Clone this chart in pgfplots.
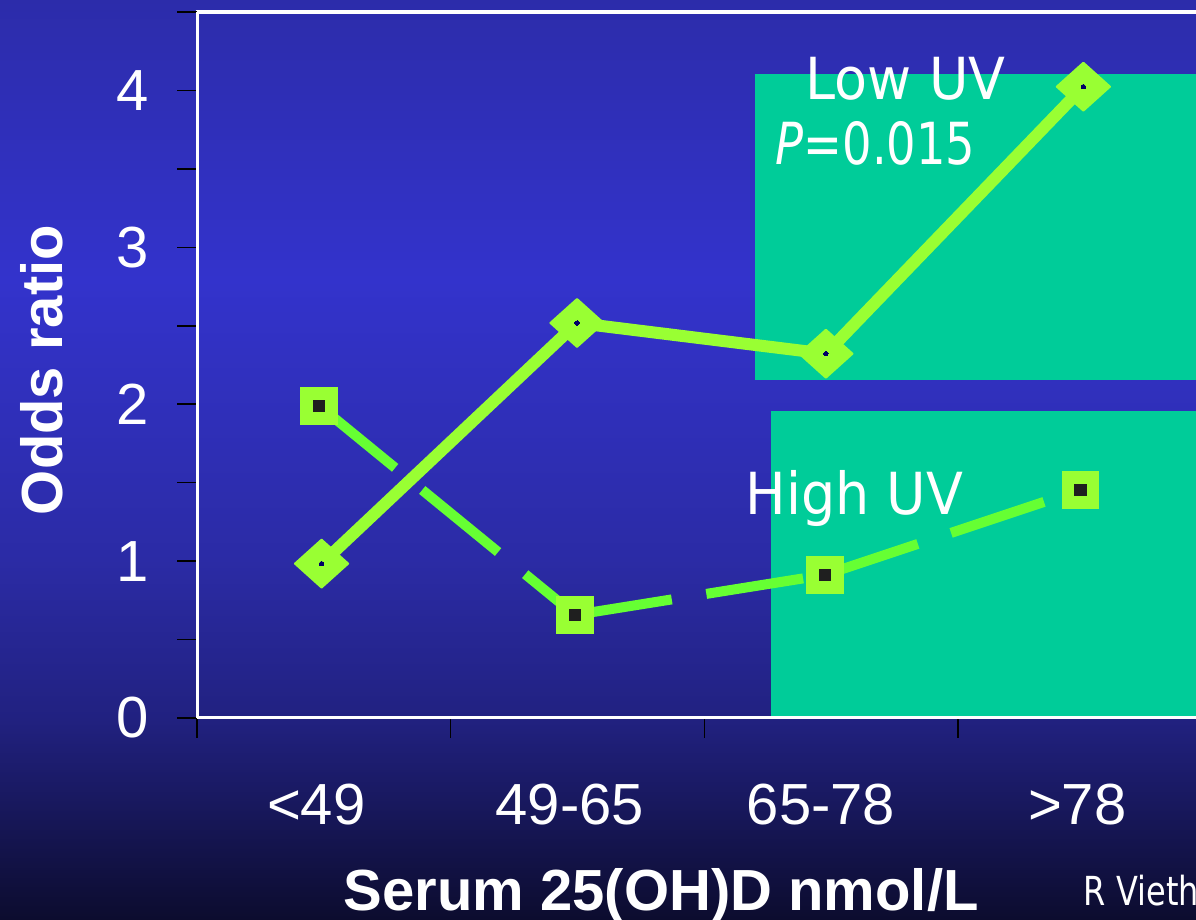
\documentclass[border=0pt]{standalone}
\usepackage{pgfplots}
\pgfplotsset{compat=1.18}
\usepackage{fontspec}
\setmainfont{Liberation Sans}
\newfontfamily\tah[FakeStretch=0.93]{DejaVu Sans}
\newfontfamily\tahn[FakeStretch=0.8]{DejaVu Sans}
\definecolor{bgA}{RGB}{44,44,170}
\definecolor{bgB}{RGB}{51,51,204}
\definecolor{bgC}{RGB}{43,43,165}
\definecolor{bgD}{RGB}{33,33,128}
\definecolor{bgE}{RGB}{12,12,46}
\definecolor{tealbox}{RGB}{0,204,153}
\definecolor{limeA}{RGB}{153,255,51}
\definecolor{limeB}{RGB}{102,255,51}
\definecolor{dotc}{RGB}{0,0,102}
\begin{document}
\begin{tikzpicture}[x=0.25pt,y=0.25pt]
\useasboundingbox (0,0) rectangle (1196,919);
\clip (0,0) rectangle (1196,919);
\shade[top color=bgA, bottom color=bgB] (-1,639) rectangle (1197,920);
\shade[top color=bgB, bottom color=bgC] (-1,359) rectangle (1197,639.5);
\shade[top color=bgC, bottom color=bgD] (-1,199) rectangle (1197,359.5);
\shade[top color=bgD, bottom color=bgE] (-1,-1) rectangle (1197,199.5);
\begin{axis}[
  at={(49.25pt,50.25pt)}, anchor=south west, scale only axis,
  width=249.75pt, height=176.5pt,
  xmin=0, xmax=3.938, ymin=0, ymax=4.5,
  clip=false, axis on top,
  separate axis lines, axis x line*=bottom, axis y line*=left,
  axis line style={white, line width=0.75pt, -},
  tick align=outside, major tick length=5pt, minor tick length=5pt,
  tick style={black, line width=0.4pt},
  xtick pos=left, ytick pos=left,
  xtick={0,1,2,3}, xticklabels={},
  ytick={0,1,2,3,4}, yticklabels={0,1,2,3,4},
  minor ytick={0.5,1.5,2.5,3.5,4.5},
  extra x ticks={0.47,1.47,2.46,3.47},
  extra x tick labels={<49,49-65,65-78,>78},
  extra x tick style={major tick length=0pt},
  ticklabel style={font=\fontsize{14.5}{17}\selectfont, text=white},
  xticklabel style={anchor=base, inner sep=0pt, yshift=-26.75pt},
  yticklabel style={anchor=east, inner sep=0pt, xshift=-6.8pt},
]
\fill[tealbox] (axis cs:2.20,2.156) rectangle (axis cs:4.0,4.102);
\fill[tealbox] (axis cs:2.262,0) rectangle (axis cs:4.0,1.958);
% Low UV
\addplot[limeA, line width=3pt, line join=round, mark=square*, mark size=4.7pt,
  mark options={solid, fill=limeA, draw=limeA, line width=0.5pt, yscale=0.9, rotate=45, rounded corners=1.6pt}]
  coordinates {(0.491,0.984) (1.498,2.518) (2.479,2.322) (3.494,4.024)};
\addplot[only marks, mark=*, mark size=0.55pt, mark options={fill=dotc, draw=dotc, line width=0pt}]
  coordinates {(0.491,0.984) (1.498,2.518) (2.479,2.322) (3.494,4.024)};
% High UV (dash pattern restarts at every point)
\addplot[limeB, line width=2.5pt, dash pattern=on 24.5pt off 8.75pt] coordinates {(0.482,1.990) (1.490,0.657)};
\addplot[limeB, line width=2.5pt, dash pattern=on 24.5pt off 8.75pt] coordinates {(1.490,0.657) (2.475,0.912)};
\addplot[limeB, line width=2.5pt, dash pattern=on 24.5pt off 8.75pt] coordinates {(2.475,0.912) (3.483,1.455)};
\addplot[only marks, mark=square*, mark size=4.6pt, mark options={fill=limeA, draw=limeA, line width=0pt}]
  coordinates {(0.482,1.990) (1.490,0.657) (2.475,0.912) (3.483,1.455)};
\addplot[only marks, mark=square*, mark size=1.4pt, mark options={fill=black!88, draw=black!88, line width=0pt}]
  coordinates {(0.482,1.990) (1.490,0.657) (2.475,0.912) (3.483,1.455)};
\draw[white, line width=0.75pt] ([xshift=-0.375pt]rel axis cs:0,1) -- (rel axis cs:1.02,1);
\end{axis}
\node[anchor=base west, inner sep=0pt, text=white, font=\tah\fontsize{14.5}{17}\selectfont] at (805,819) {Low UV};
\node[anchor=base west, inner sep=0pt, text=white, font=\tahn\fontsize{14.5}{17}\selectfont] at (775,754) {\itshape P\upshape=0.015};
\node[anchor=base west, inner sep=0pt, text=white, font=\tah\fontsize{14.5}{17}\selectfont] at (745,404) {High UV};
\node[anchor=base west, inner sep=0pt, text=white, font=\bfseries\fontsize{14.5}{17}\selectfont] at (343,9) {Serum 25(OH)D nmol/L};
\node[rotate=90, anchor=center, inner sep=0pt, text=white, font=\bfseries\fontsize{14.5}{17}\selectfont] at (42,549) {Odds ratio};
\node[anchor=base west, inner sep=0pt, text=white, font=\tahn\fontsize{10}{12}\selectfont] at (1083,14) {R Vieth};
\end{tikzpicture}
\end{document}
